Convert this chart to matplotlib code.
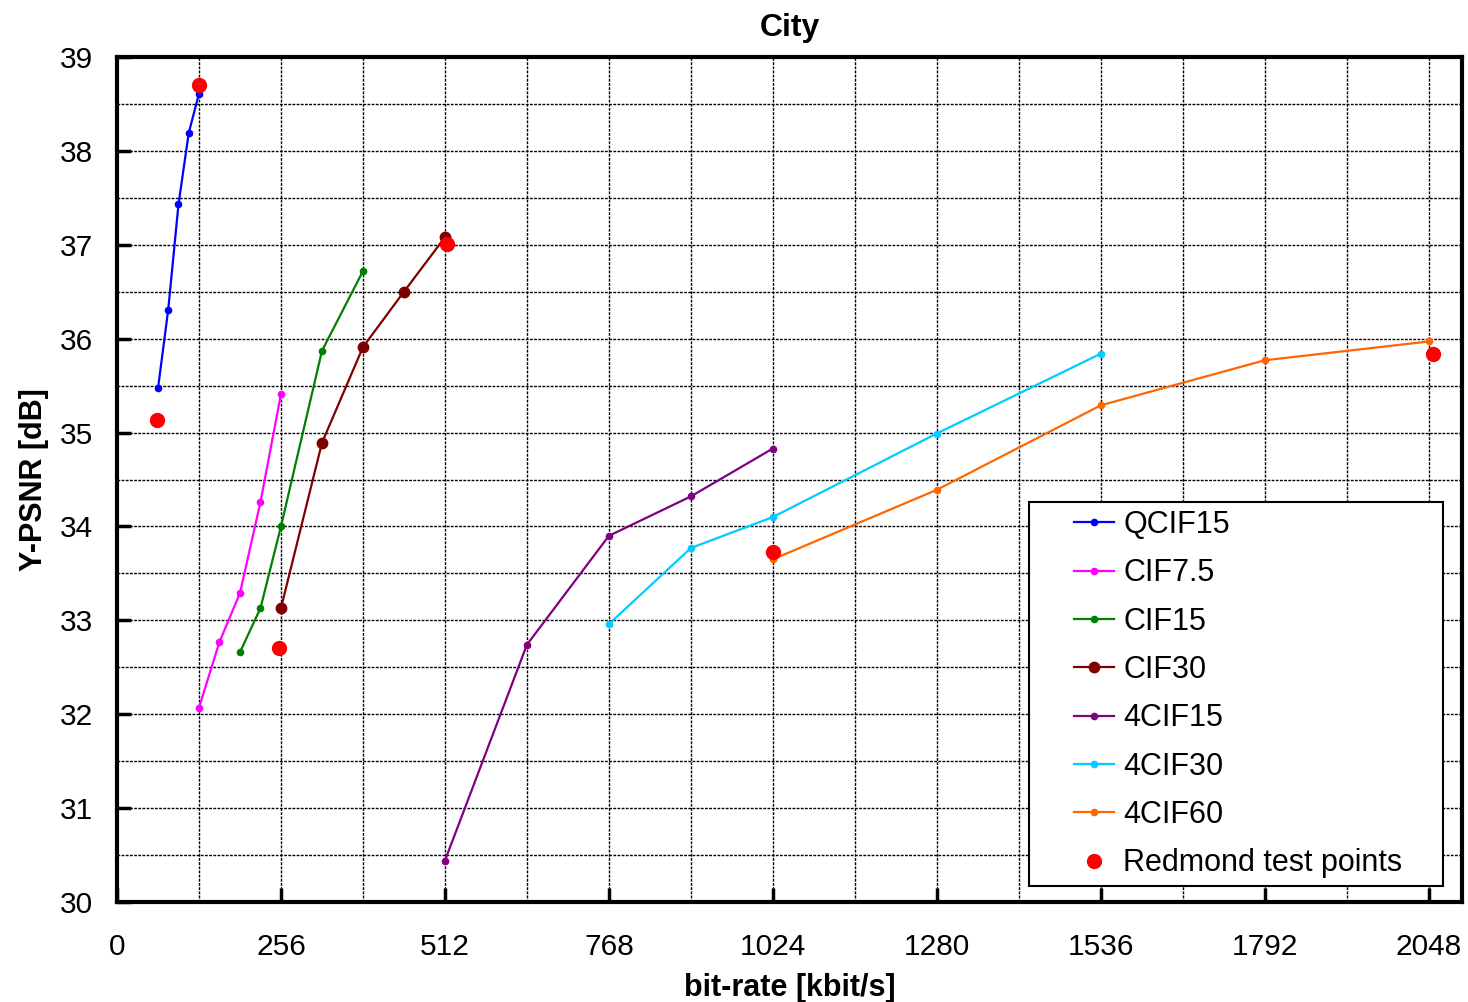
import matplotlib
matplotlib.use("Agg")
import matplotlib.pyplot as plt
from matplotlib.offsetbox import DrawingArea

plt.rcParams['font.family'] = ['Liberation Sans', 'DejaVu Sans']

# rate points [kbit/s] and Y-PSNR [dB] per format
qcif15_rate = [64, 80, 96, 112, 128]
qcif15_psnr = [35.47, 36.31, 37.43, 38.19, 38.61]

cif7_rate = [128, 160, 192, 224, 256]
cif7_psnr = [32.07, 32.77, 33.29, 34.26, 35.41]

cif15_rate = [192, 224, 256, 320, 384]
cif15_psnr = [32.66, 33.13, 34.00, 35.87, 36.72]

cif30_rate = [256, 320, 384, 448, 512]
cif30_psnr = [33.13, 34.89, 35.91, 36.50, 37.08]

cif4_15_rate = [512, 640, 768, 896, 1024]
cif4_15_psnr = [30.44, 32.74, 33.90, 34.32, 34.83]

cif4_30_rate = [768, 896, 1024, 1280, 1536]
cif4_30_psnr = [32.96, 33.77, 34.10, 34.99, 35.84]

cif4_60_rate = [1024, 1280, 1536, 1792, 2048]
cif4_60_psnr = [33.65, 34.39, 35.29, 35.77, 35.97]

redmond_rate = [128, 62, 516, 253, 1024, 2054]
redmond_psnr = [38.70, 35.13, 37.01, 32.71, 33.73, 35.84]

series = [
    ("QCIF15", qcif15_rate, qcif15_psnr, '#0000FF', 4.5),
    ("CIF7.5", cif7_rate, cif7_psnr, '#FF00FF', 4.5),
    ("CIF15", cif15_rate, cif15_psnr, '#008000', 4.5),
    ("CIF30", cif30_rate, cif30_psnr, '#800000', 7.5),
    ("4CIF15", cif4_15_rate, cif4_15_psnr, '#800080', 4.5),
    ("4CIF30", cif4_30_rate, cif4_30_psnr, '#00CCFF', 4.5),
    ("4CIF60", cif4_60_rate, cif4_60_psnr, '#FF6600', 4.5),
]

fig = plt.figure(figsize=(14.68, 10.02), dpi=100)
ax = fig.add_axes([0.0797, 0.0998, 0.9162, 0.8433])

for name, rate, psnr, color, ms in series:
    ax.plot(rate, psnr, '-o', color=color, lw=1.6, markersize=ms, label=name)

ax.plot(redmond_rate, redmond_psnr, 'o', color='#FF0000', markersize=10,
        linestyle='none', label="Redmond test points", zorder=5)

ax.set_xlim(0, 2100)
ax.set_ylim(30, 39)
ax.set_xticks(range(0, 2049, 256))
ax.set_xticks(range(0, 2100, 128), minor=True)
ax.set_yticks(range(30, 40))
ax.set_yticks([30 + 0.5 * i for i in range(19)], minor=True)

ax.grid(True, which='both', color='black', linestyle=(0, (2, 1)), linewidth=1.0)
ax.tick_params(which='major', direction='in', length=10, width=2.5,
               labelsize=21.5, pad=17)
ax.tick_params(axis='x', which='major', pad=22)
ax.tick_params(which='minor', length=0)
for sp in ax.spines.values():
    sp.set_linewidth(3)

ax.set_xlabel("bit-rate [kbit/s]", fontsize=22, fontweight='bold', labelpad=9)
ax.set_ylabel("Y-PSNR [dB]", fontsize=22, fontweight='bold', labelpad=8)
ax.set_title("City", fontsize=23, fontweight='bold', pad=15)

leg = ax.legend(loc='lower right', bbox_to_anchor=(0.986, 0.019), fontsize=22,
                fancybox=False, framealpha=1, edgecolor='black',
                handlelength=1.3, handletextpad=0.3, labelspacing=0.6,
                borderpad=0.25, borderaxespad=0, columnspacing=0)
leg.get_frame().set_linewidth(1.5)
# extra room left of the handles and right of the labels, like the original box
cols = leg._legend_handle_box.get_children()
cols.insert(0, DrawingArea(27, 1))
cols.append(DrawingArea(24, 1))

fig.savefig("out.png", dpi=100)
